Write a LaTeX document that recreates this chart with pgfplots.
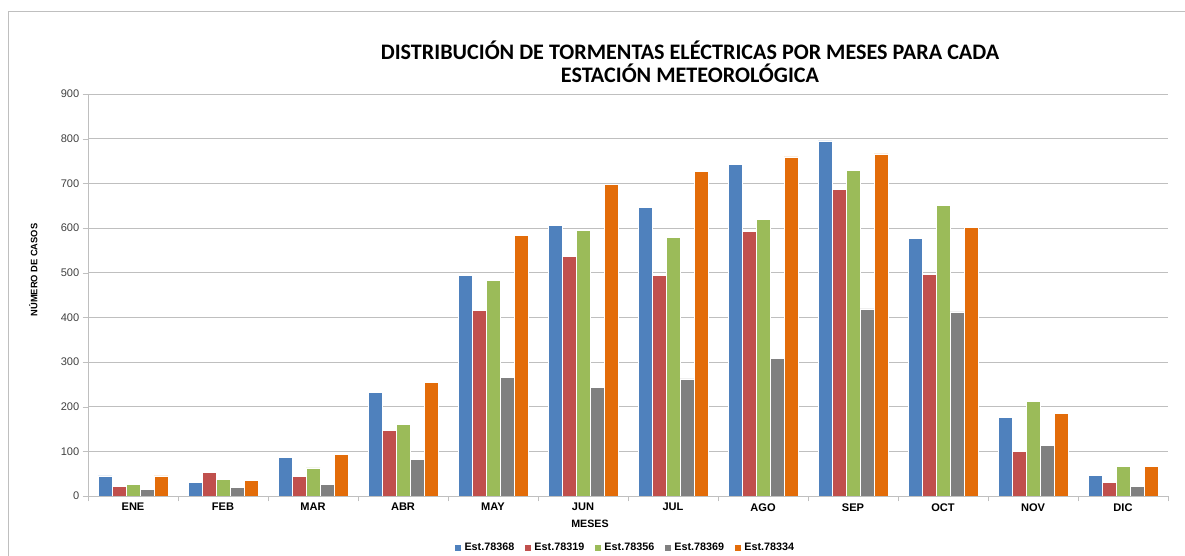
\documentclass[border=0pt]{standalone}
\usepackage{pgfplots}
\pgfplotsset{compat=1.18}
\usepackage{fontspec}
\setmainfont{Liberation Sans}
\newfontfamily\titlefont{Carlito}
\definecolor{c1}{HTML}{4F81BD}
\definecolor{c2}{HTML}{C0504D}
\definecolor{c3}{HTML}{9BBB59}
\definecolor{c4}{HTML}{808080}
\definecolor{c5}{HTML}{E36C09}
\definecolor{axgray}{HTML}{BFBFBF}
\begin{document}
\begin{tikzpicture}
\useasboundingbox (-66pt,-45pt) rectangle (822.75pt,372pt);
\draw[axgray, line width=0.6pt] (-60pt,-50pt) -- (-60pt,363.75pt) -- (830pt,363.75pt);
\begin{axis}[
  at={(0pt,0pt)}, anchor=south west,
  scale only axis, width=810pt, height=301.5pt,
  xmin=-0.5, xmax=11.5, ymin=0, ymax=900,
  ytick={0,100,...,900},
  xtick={0,...,11},
  xticklabels={ENE,FEB,MAR,ABR,MAY,JUN,JUL,AGO,SEP,OCT,NOV,DIC},
  minor xtick={-0.5,0.5,...,11.5},
  major x tick style={draw=none},
  minor x tick style={axgray},
  minor tick length=4pt,
  major tick length=4pt,
  y tick style={axgray},
  tick align=outside,
  tick pos=left,
  axis x line*=bottom,
  axis y line*=left,
  axis line style={axgray},
  ymajorgrids, grid style={axgray, line width=0.5pt},
  /pgf/number format/assume math mode=true,
  yticklabel style={font=\fontsize{8.3pt}{9pt}\selectfont, text=black!75, xshift=1pt},
  xticklabel style={font=\bfseries\fontsize{8.3pt}{9pt}\selectfont, yshift=2pt},
  ybar=0pt, bar width=10.5pt,
  every axis plot/.append style={draw=white, line width=0.5pt},
  legend style={at={(rel axis cs:0.4975,0)}, anchor=center, yshift=-39pt, draw=none,
    font=\bfseries\fontsize{8.1pt}{9pt}\selectfont, legend columns=5,
    /tikz/every even column/.append style={column sep=5pt}},
  legend image code/.code={\fill[#1] (0pt,-2.8pt) rectangle (5.6pt,2.8pt);},
]
\addplot[fill=c1] coordinates {(0,45) (1,30) (2,87) (3,231) (4,494) (5,605) (6,646) (7,742) (8,795) (9,576) (10,175) (11,47)};
\addplot[fill=c2] coordinates {(0,22) (1,52) (2,43) (3,146) (4,415) (5,536) (6,494) (7,593) (8,686) (9,497) (10,99) (11,31)};
\addplot[fill=c3] coordinates {(0,25) (1,38) (2,63) (3,161) (4,483) (5,595) (6,578) (7,619) (8,729) (9,651) (10,211) (11,67)};
\addplot[fill=c4] coordinates {(0,14) (1,20) (2,25) (3,81) (4,265) (5,243) (6,262) (7,308) (8,419) (9,412) (10,114) (11,22)};
\addplot[fill=c5] coordinates {(0,45) (1,34) (2,94) (3,255) (4,583) (5,697) (6,727) (7,759) (8,766) (9,601) (10,185) (11,66)};
\legend{Est.78368,Est.78319,Est.78356,Est.78369,Est.78334}
\end{axis}
\node[font=\bfseries\fontsize{7pt}{8pt}\selectfont, rotate=90] at (-41pt,169.5pt) {NÚMERO DE CASOS};
\node[font=\bfseries\fontsize{8pt}{9pt}\selectfont] at (376.5pt,-20.5pt) {MESES};
\node[font=\titlefont\bfseries\fontsize{16.6pt}{17.3pt}\selectfont, align=center] at (451.5pt,326pt) {DISTRIBUCIÓN DE TORMENTAS ELÉCTRICAS POR MESES PARA CADA\\ESTACIÓN METEOROLÓGICA};
\end{tikzpicture}
\end{document}
